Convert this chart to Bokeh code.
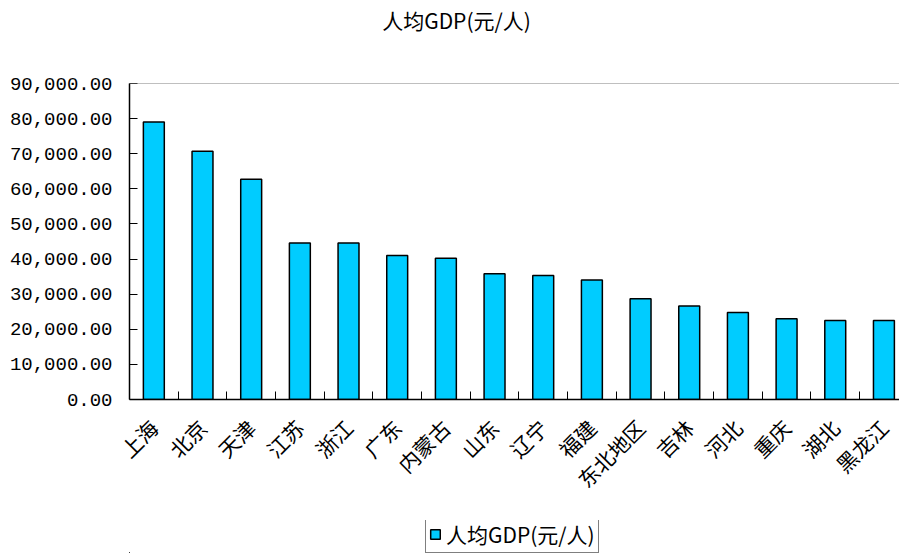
import math
from bokeh.plotting import figure
from bokeh.layouts import column
from bokeh.models import (Range1d, FixedTicker, NumeralTickFormatter, Span, Legend,
                          LegendItem, ColumnDataSource, Label)
from bokeh.embed import file_html
from bokeh.resources import INLINE

regions = ["上海", "北京", "天津", "江苏", "浙江", "广东", "内蒙古", "山东", "辽宁",
           "福建", "东北地区", "吉林", "河北", "重庆", "湖北", "黑龙江"]
gdp_per_capita = [79000, 70700, 62700, 44600, 44600, 41000, 40200, 35800, 35300,
                  34000, 28700, 26600, 24800, 23000, 22500, 22500]
series_name = "人均GDP(元/人)"
y_ticks = [0, 10000, 20000, 30000, 40000, 50000, 60000, 70000, 80000, 90000]

centers = [i + 0.5 for i in range(len(regions))]
source = ColumnDataSource(data=dict(x=centers, y=gdp_per_capita, name=regions))

BAR_FILL = "#00CCFF"
W = 899
LEFT = 129  # frames of the stacked figures are aligned to the chart's frame


def blank_strip(height, y_range=None):
    f = figure(width=W, height=height, output_backend="svg", toolbar_location=None,
               x_range=Range1d(LEFT, W),
               y_range=y_range if y_range is not None else Range1d(0, height),
               x_axis_type=None, y_axis_type=None,
               min_border_left=LEFT, min_border_right=0, min_border_top=0,
               min_border_bottom=0)
    f.outline_line_color = None
    f.grid.visible = False
    f.background_fill_color = "white"
    f.border_fill_color = "white"
    return f


# title strip
p0 = blank_strip(43)
p0.add_layout(Label(x=456, y=24, text=series_name, text_align="center",
                    text_baseline="middle", text_font="Noto Sans CJK SC",
                    text_font_size="21px", text_color="black"))

# main chart
p = figure(width=W, height=477, output_backend="svg", toolbar_location=None,
           x_range=Range1d(0, 15.82), y_range=Range1d(0, 90000),
           min_border_left=LEFT, min_border_right=0, min_border_top=40,
           min_border_bottom=121)
p.background_fill_color = "white"
p.border_fill_color = "white"
p.outline_line_color = None
p.grid.visible = False

r = p.vbar(x="x", top="y", width=0.43, source=source, fill_color=BAR_FILL,
           line_color="black", line_width=1.5)

top_line = Span(location=90000, dimension="width", line_color="#808080", line_width=1)
p.add_layout(top_line)

# x axis: labels at centers, ticks between categories
xa = p.xaxis[0]
xa.ticker = FixedTicker(ticks=centers, minor_ticks=list(range(1, len(regions))))
xa.major_label_overrides = {c: n for c, n in zip(centers, regions)}
xa.major_label_orientation = math.pi / 4
xa.major_tick_line_color = None
xa.minor_tick_in = 8
xa.minor_tick_out = 0
xa.minor_tick_line_color = "black"
xa.minor_tick_line_width = 1
xa.axis_line_color = "black"
xa.axis_line_width = 1.5
xa.major_label_text_font = "Noto Sans CJK SC"
xa.major_label_text_font_size = "21px"
xa.major_label_text_color = "black"
xa.major_label_standoff = 18

ya = p.yaxis[0]
ya.ticker = FixedTicker(ticks=y_ticks)
ya.formatter = NumeralTickFormatter(format="0,0.00")
ya.major_tick_in = 8
ya.major_tick_out = 0
ya.minor_tick_line_color = None
ya.axis_line_color = "black"
ya.axis_line_width = 1.5
ya.major_label_text_font = "Liberation Mono"
ya.major_label_text_font_size = "19px"
ya.major_label_text_color = "black"
ya.major_label_standoff = 17

# legend strip below the chart: its bar renderer lies below the strip's visible
# range (and below the page), it only supplies the legend swatch
p2 = blank_strip(33, y_range=Range1d(200000, 300000))
r2 = p2.vbar(x="x", top="y", width=0.43, source=source,
             fill_color=BAR_FILL, line_color="black", line_width=1.5)

legend = Legend(items=[LegendItem(label=series_name, renderers=[r2])],
                location=(425 - LEFT, 0), orientation="horizontal")
legend.label_text_font = "Noto Sans CJK SC"
legend.label_text_font_size = "21px"
legend.label_text_color = "black"
legend.glyph_width = 12
legend.glyph_height = 12
legend.label_standoff = 5
legend.border_line_color = "black"
legend.border_line_width = 1
legend.padding = 3
legend.margin = 0
p2.add_layout(legend)

layout = column(p0, p, p2, spacing=0)
open("out.html", "w").write(file_html(layout, INLINE))
